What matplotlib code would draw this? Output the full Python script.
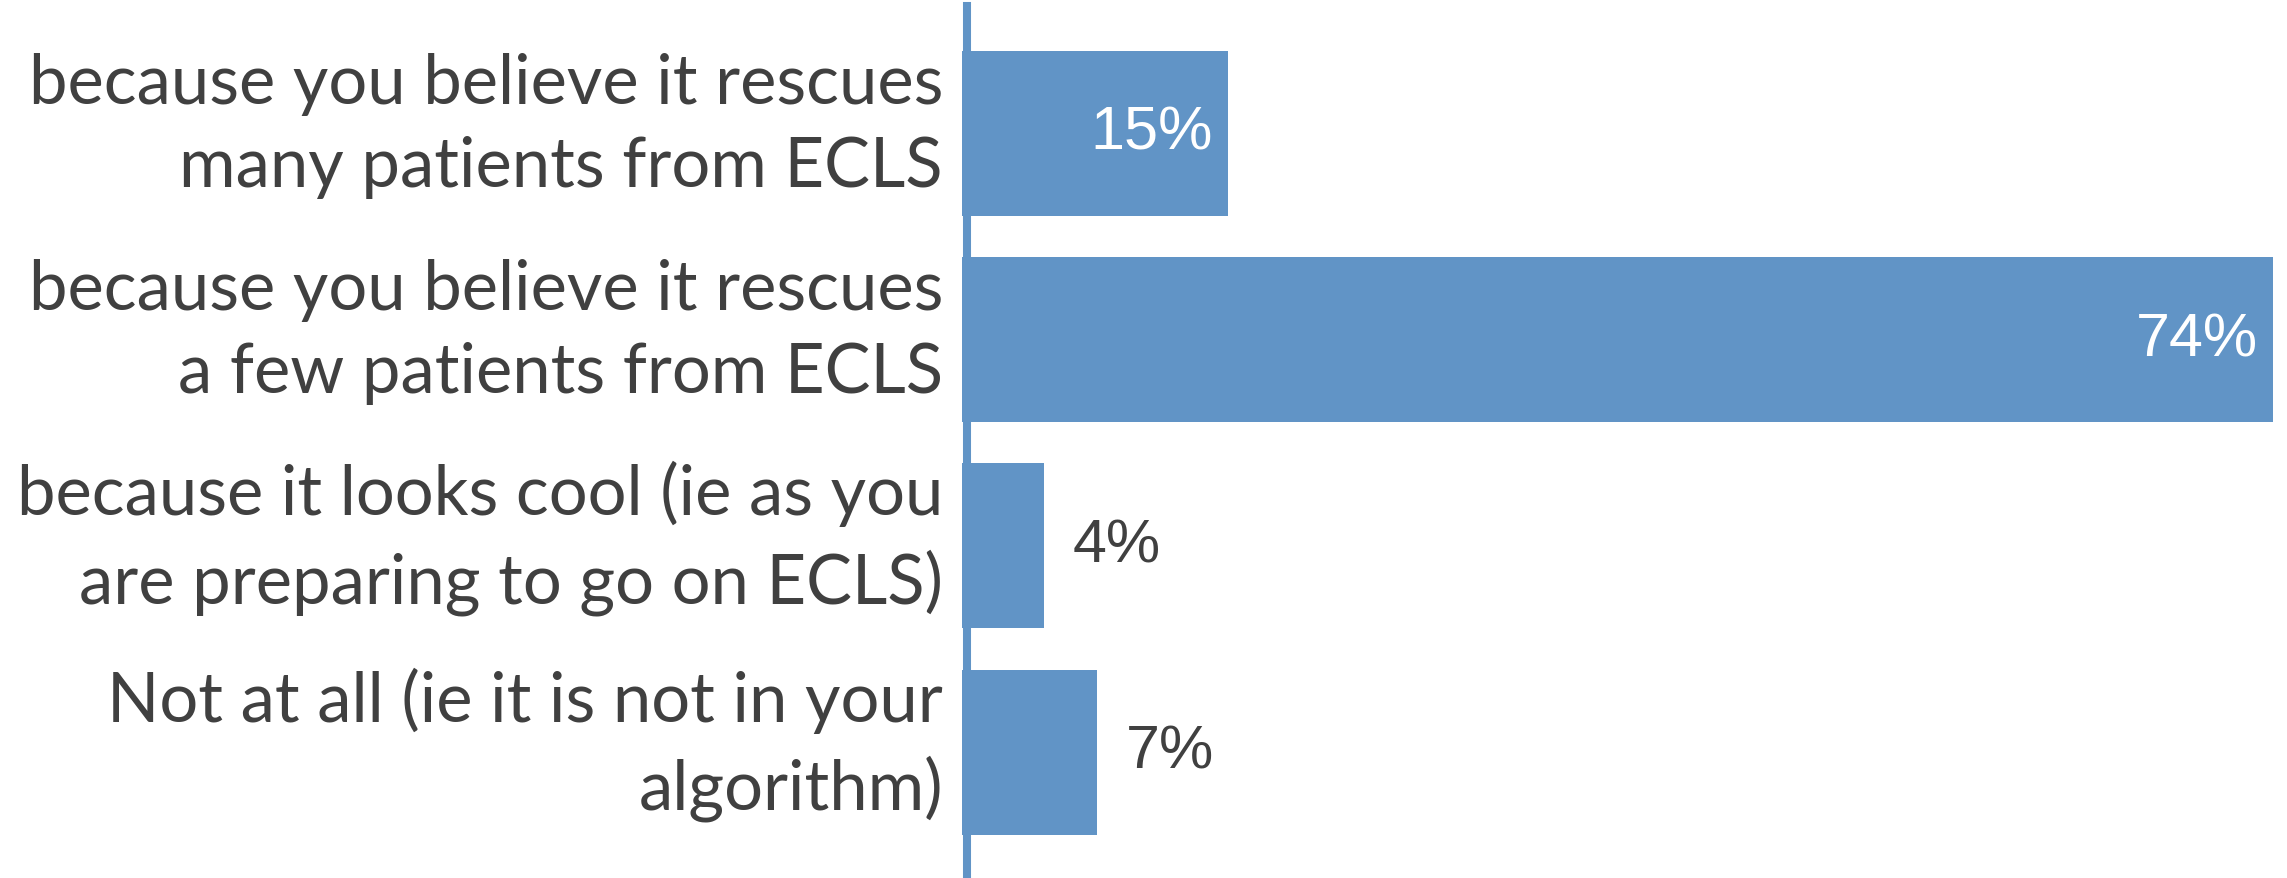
import matplotlib
matplotlib.use("Agg")
import matplotlib.pyplot as plt

# data
categories = [
    "because you believe it rescues\nmany patients from ECLS",
    "because you believe it rescues\na few patients from ECLS",
    "because it looks cool (ie as you\nare preparing to go on ECLS)",
    "Not at all (ie it is not in your\nalgorithm)",
]
bar_lengths = [15.0, 74.0, 4.6, 7.6]
value_labels = ["15%", "74%", "4%", "7%"]
inside = [True, True, False, False]

blue = "#6194c6"
grey = "#404040"

fig = plt.figure(figsize=(22.87, 8.79), dpi=100)
ax = fig.add_axes([962.4 / 2287, 0.0, (2272.7 - 962.4) / 2287, 1 - 7 / 879])

y = list(range(len(categories)))
ax.barh(y, bar_lengths, height=0.8, color=blue, zorder=2)

ax.set_xlim(0, 74)
ax.set_ylim(3.609, -0.616)

for s in ["top", "right", "bottom"]:
    ax.spines[s].set_visible(False)
ax.spines["left"].set_color(blue)
ax.spines["left"].set_linewidth(5.8)
ax.spines["left"].set_position(("data", 0.24))
ax.spines["left"].set_zorder(3)

ax.set_xticks([])
ax.set_yticks([])

# category labels, a touch above the bar centre like the original
for yi, cat in zip(y, categories):
    ax.annotate(cat, (0.24, yi), xytext=(-17, 6), textcoords="offset points",
                ha="right", va="center", color=grey, fontsize=49.5,
                family="Lato", linespacing=1.4, annotation_clip=False)

for yi, v, lab, ins in zip(y, bar_lengths, value_labels, inside):
    if ins:
        ax.annotate(lab, (v, yi), xytext=(-10.8, 0), textcoords="offset points",
                    ha="right", va="center", color="white", fontsize=44,
                    family="Liberation Sans")
    else:
        ax.annotate(lab, (v, yi), xytext=(21, 0), textcoords="offset points",
                    ha="left", va="center", color=grey, fontsize=44,
                    family="Liberation Sans")

fig.savefig("out.png", dpi=100)
